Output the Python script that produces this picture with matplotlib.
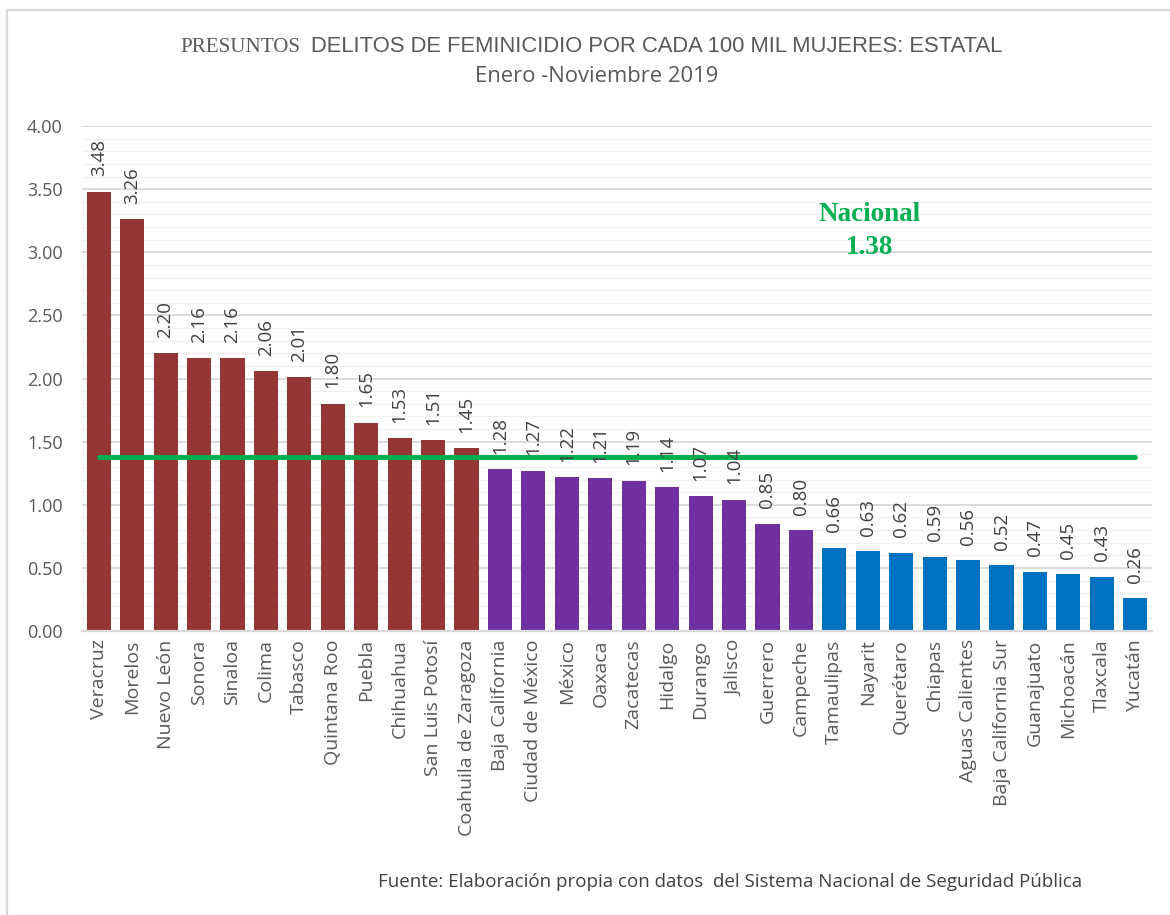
import matplotlib
matplotlib.use("Agg")
import matplotlib.pyplot as plt
from matplotlib.lines import Line2D
from matplotlib.ticker import MultipleLocator

# datos
estados = ["Veracruz", "Morelos", "Nuevo León", "Sonora", "Sinaloa", "Colima",
           "Tabasco", "Quintana Roo", "Puebla", "Chihuahua", "San Luis Potosí",
           "Coahuila de Zaragoza", "Baja California", "Ciudad de México", "México",
           "Oaxaca", "Zacatecas", "Hidalgo", "Durango", "Jalisco", "Guerrero",
           "Campeche", "Tamaulipas", "Nayarit", "Querétaro", "Chiapas",
           "Aguas Calientes", "Baja California Sur", "Guanajuato", "Michoacán",
           "Tlaxcala", "Yucatán"]
tasas = [3.48, 3.26, 2.20, 2.16, 2.16, 2.06, 2.01, 1.80, 1.65, 1.53, 1.51, 1.45,
         1.28, 1.27, 1.22, 1.21, 1.19, 1.14, 1.07, 1.04, 0.85, 0.80,
         0.66, 0.63, 0.62, 0.59, 0.56, 0.52, 0.47, 0.45, 0.43, 0.26]
grupo = [0] * 12 + [1] * 10 + [2] * 10
colores_grupo = ["#943634", "#7030A0", "#0070C0"]
nacional = 1.38

W, H = 1170, 915
fig = plt.figure(figsize=(W / 100, H / 100), dpi=100)
ax = fig.add_axes([82 / W, 1 - 631 / H, (1152 - 82) / W, (631 - 126) / H])

x = list(range(len(estados)))
ax.bar(x, tasas, width=0.72, color=[colores_grupo[g] for g in grupo], zorder=2)
ax.plot([0, len(estados) - 1], [nacional, nacional], color="#00B050", lw=3.6,
        solid_capstyle="round", zorder=3)

for i, v in enumerate(tasas):
    ax.annotate(f"{v:.2f}", (i, v), xytext=(0, 11), textcoords="offset points",
                rotation=90, ha="center", va="bottom", fontsize=13.5,
                family="Open Sans", color="#404040", zorder=4)

ax.set_xlim(-0.5, len(estados) - 0.5)
ax.set_ylim(0, 4)
ax.yaxis.set_major_locator(MultipleLocator(0.5))
ax.yaxis.set_minor_locator(MultipleLocator(0.1))
ax.set_yticks([i * 0.5 for i in range(9)])
ax.set_yticklabels([f"{i * 0.5:.2f}" for i in range(9)], family="Open Sans",
                   fontsize=13, color="#595959")
ax.set_xticks(x)
ax.set_xticklabels(estados, rotation=90, family="Open Sans", fontsize=14,
                   color="#595959")
ax.tick_params(axis="y", which="both", length=0, pad=14)
ax.tick_params(axis="x", length=0, pad=6)
ax.grid(axis="y", which="major", color="#d9d9d9", lw=1.3, zorder=0)
ax.grid(axis="y", which="minor", color="#f0f0f0", lw=1.0, zorder=0)
for s in ["top", "right", "left"]:
    ax.spines[s].set_visible(False)
ax.spines["bottom"].set_color("#d9d9d9")
ax.spines["bottom"].set_linewidth(1.6)
ax.set_axisbelow(True)

ax.text(23.05, 3.30, "Nacional", ha="center", va="center", family="Liberation Serif",
        weight="bold", fontsize=19.5, color="#00B050")
ax.text(23.05, 3.04, "1.38", ha="center", va="center", family="Liberation Serif",
        weight="bold", fontsize=19.5, color="#00B050")

fig.canvas.draw()
renderer = fig.canvas.get_renderer()


def texto_ajustado(x0, x1, y, s, color, family, size, **kw):
    # escala el tamaño para que el texto ocupe de x0 a x1 (pixeles)
    t = fig.text(x0 / W, 1 - y / H, s, ha="left", va="center", color=color,
                 family=family, fontsize=size, **kw)
    w = t.get_window_extent(renderer).width
    t.set_fontsize(size * (x1 - x0) / w)
    return t


texto_ajustado(180, 300, 47, "PRESUNTOS", "#595959", "Liberation Serif", 15)
texto_ajustado(311, 1005, 47, "DELITOS DE FEMINICIDIO POR CADA 100 MIL MUJERES: ESTATAL",
               "#595959", "Liberation Sans", 15)
texto_ajustado(475, 720, 77, "Enero -Noviembre 2019", "#595959", "Open Sans", 14)
texto_ajustado(378, 1080, 882,
               "Fuente: Elaboración propia con datos  del Sistema Nacional de Seguridad Pública",
               "#404040", "Open Sans", 12)

# marco del grafico
fig.add_artist(Line2D([7 / W, 7 / W], [0, 1 - 10 / H], color="#d9d9d9", lw=1.6))
fig.add_artist(Line2D([7 / W, 1], [1 - 10 / H, 1 - 10 / H], color="#d9d9d9", lw=1.6))

fig.savefig("out.png", dpi=100)
